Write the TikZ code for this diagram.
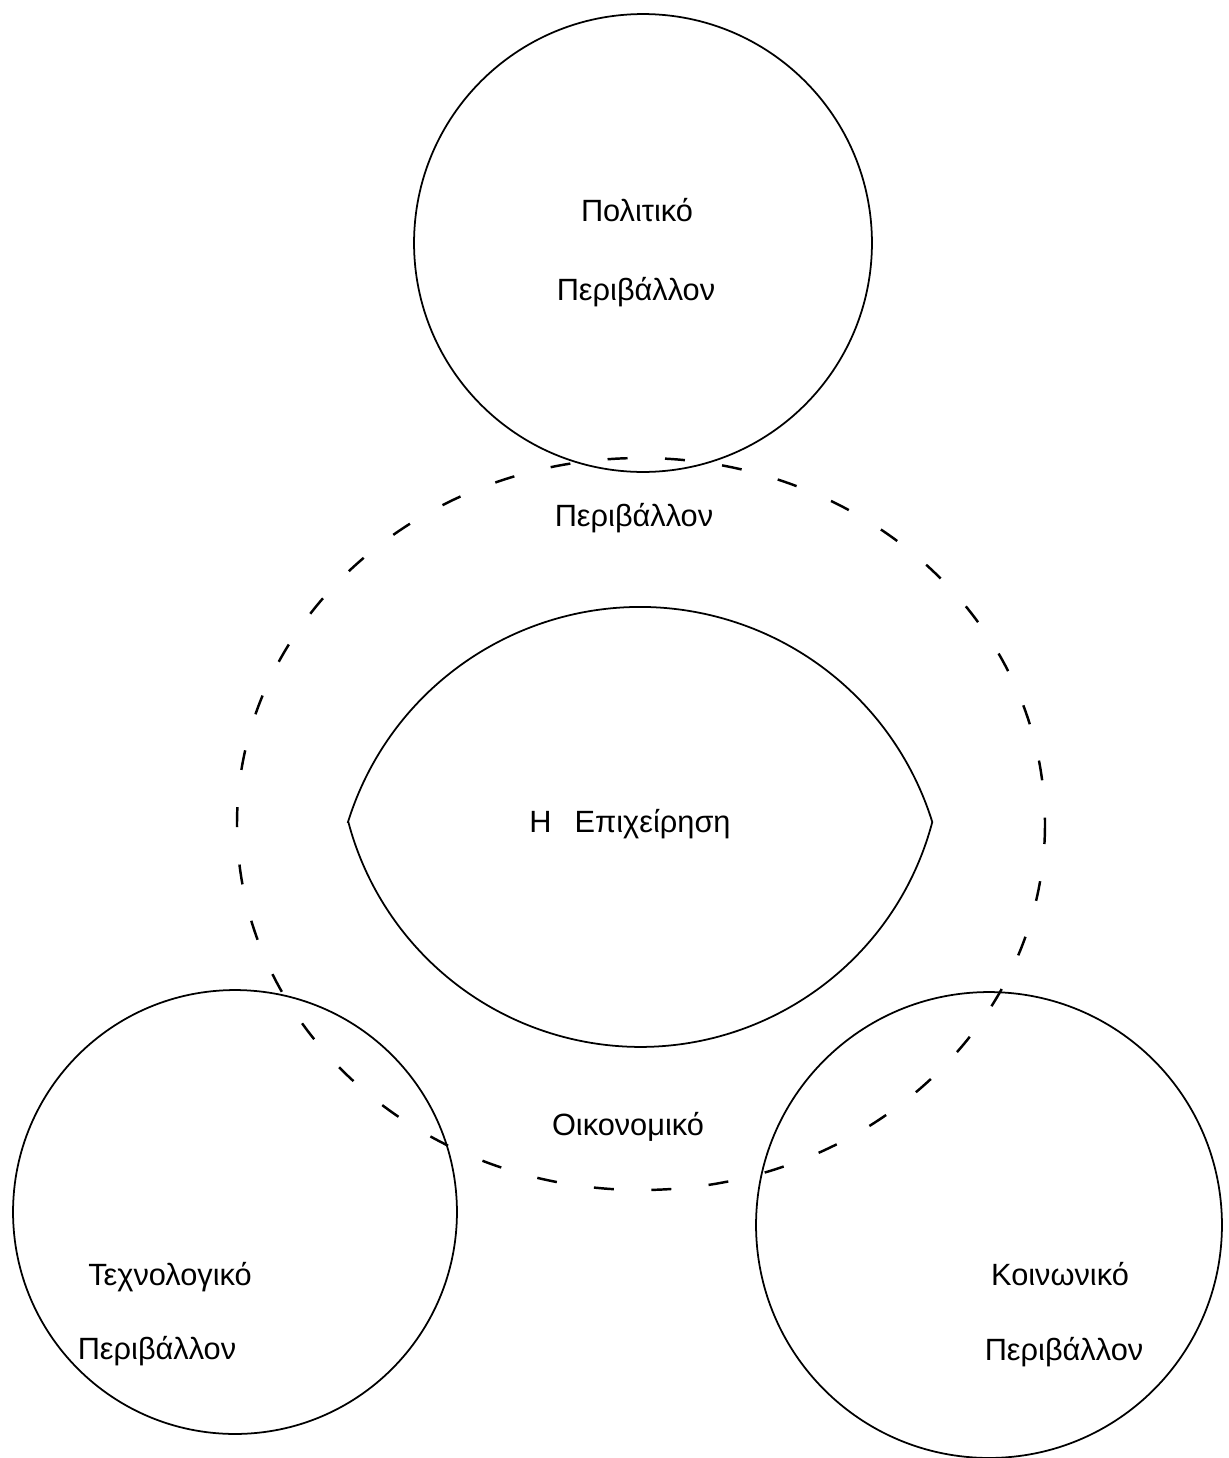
\documentclass[tikz,border=0pt]{standalone}
\usepackage{fontspec}
\setmainfont{Liberation Sans}
\tikzset{
  envcircle/.style={draw, circle, line width=1pt, inner sep=0pt},
  envlabel/.style={anchor=base, inner sep=0pt, font=\fontsize{17.5}{21}\selectfont},
  envdash/.style={line width=1.4pt, dash pattern=on 0.4cm off 0.75cm},
}
\begin{document}
\begin{tikzpicture}[x=0.02cm,y=-0.02cm]
  \useasboundingbox (0,0) rectangle (1228,1458);
  % outer ring
  \draw[envdash] (641,824) ellipse[x radius=404, y radius=366];
  % the three environments
  \node[envcircle, minimum size=9.16cm] (pol) at (643,243) {};
  \node[envcircle, minimum size=8.88cm] (tech) at (235,1212) {};
  \node[envcircle, minimum size=9.32cm] (soc) at (989,1225) {};
  % the firm
  \draw[line width=1pt] (348,822) arc[start angle=197.3, end angle=342.7, radius=306]
    arc[start angle=14.8, end angle=165.2, radius=302] -- cycle;
  % labels
  \node[envlabel] (polA) at (637,221) {Πολιτικό};
  \node[envlabel] (polB) at (636,300) {Περιβάλλον};
  \node[envlabel] (ecoB) at (634,526) {Περιβάλλον};
  \node[envlabel] (firm) at (630,832) {Η\hspace{0.75em}Επιχείρηση};
  \node[envlabel] (ecoA) at (628,1135) {Οικονομικό};
  \node[envlabel] (techA) at (170,1285) {Τεχνολογικό};
  \node[envlabel] (techB) at (157,1359) {Περιβάλλον};
  \node[envlabel] (socA) at (1060,1285) {Κοινωνικό};
  \node[envlabel] (socB) at (1064,1360) {Περιβάλλον};
\end{tikzpicture}
\end{document}
